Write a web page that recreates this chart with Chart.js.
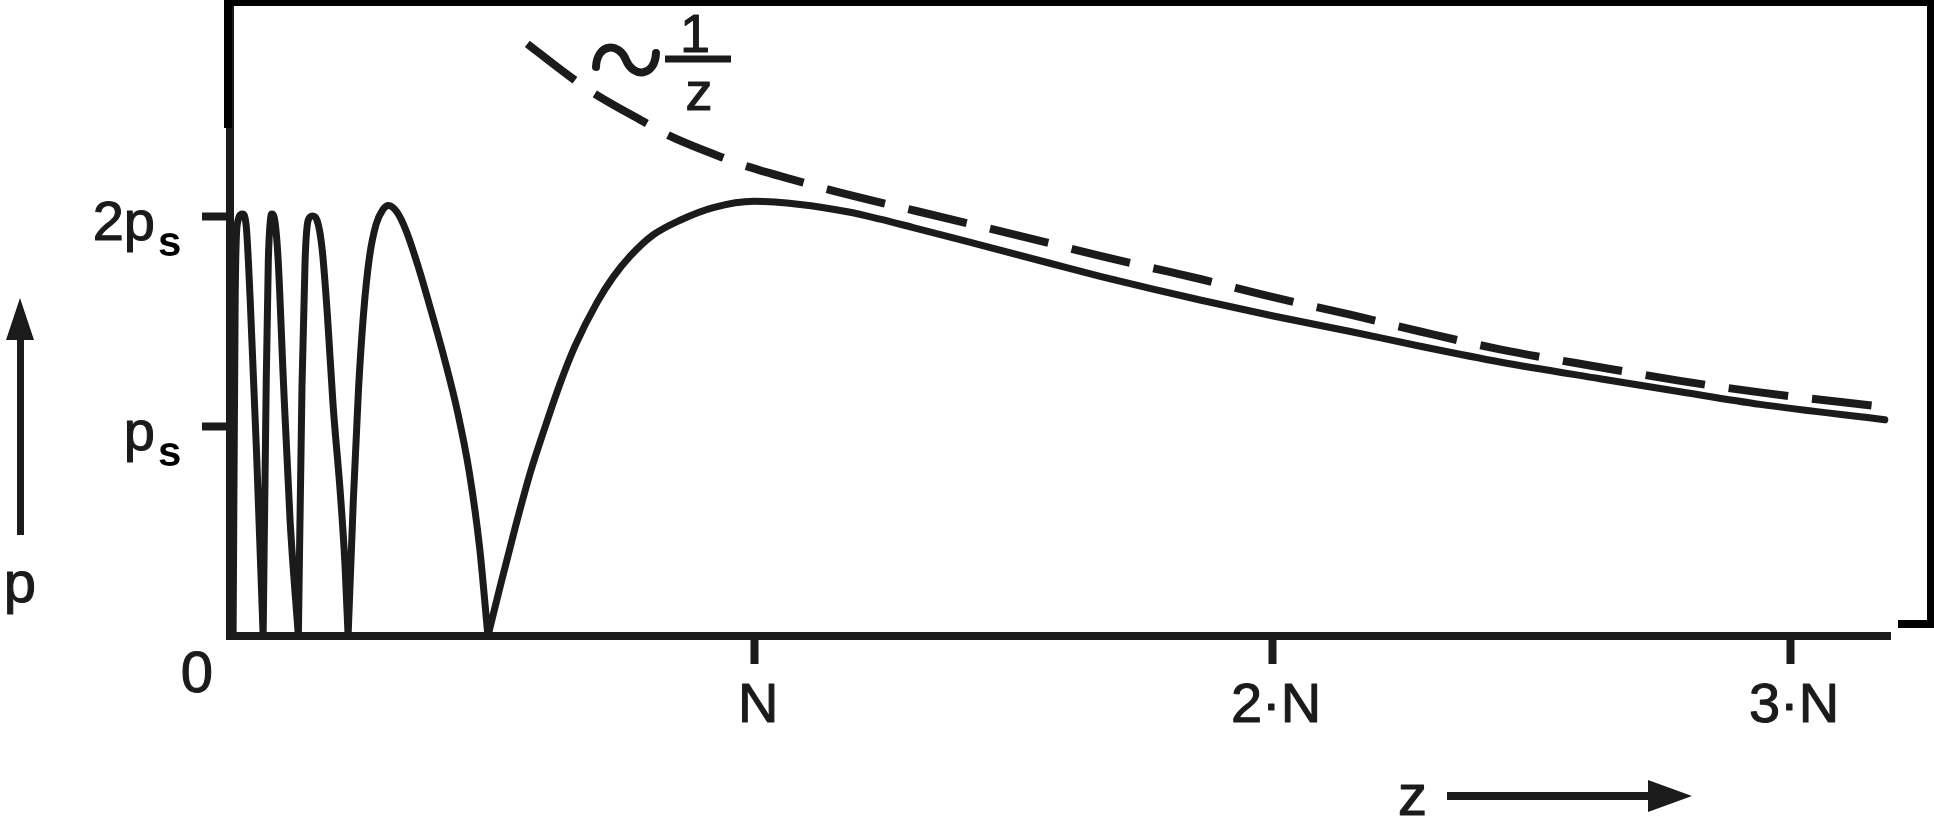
<!DOCTYPE html>
<html>
<head>
<meta charset="utf-8">
<script src="https://cdn.jsdelivr.net/npm/chart.js@4.4.1/dist/chart.umd.min.js"></script>
<style>
  html, body { margin: 0; padding: 0; background: #fff; }
  #wrap { position: relative; width: 1934px; height: 820px; }
  canvas { display: block; }
  .frame { position: absolute; background: #000; }
</style>
</head>
<body>
<div id="wrap">
  <canvas id="myChart" width="1934" height="820"></canvas>
  <div class="frame" style="left:224px;top:0;width:1710px;height:6px"></div>
  <div class="frame" style="left:224px;top:0;width:8px;height:128px"></div>
  <div class="frame" style="left:1927px;top:0;width:7px;height:628px"></div>
  <div class="frame" style="left:1898px;top:620px;width:36px;height:8px"></div>
</div>
<script>
// z in units of N, p in units of p_s
const xTicks = [1, 2, 3];
const xTickLabels = ["N", "2·N", "3·N"];
const yTicks = [1, 2];
const yTickLabels = ["p", "2p"];   // each one gets a subscript "s"

// near field lobes
const lobe1 = [[-0.006, 0], [-0.002, 1.60], [0.002, 1.96], [0.012, 2.01], [0.019, 1.96],
               [0.027, 1.60], [0.039, 0.89], [0.052, 0]];
const lobe2 = [[0.052, 0], [0.058, 1.22], [0.062, 1.79], [0.066, 1.98], [0.069, 2.01],
               [0.075, 1.97], [0.081, 1.79], [0.091, 1.22], [0.104, 0.55], [0.120, 0]];
const lobe3 = [[0.120, 0], [0.127, 1.19], [0.133, 1.79], [0.139, 1.98], [0.147, 2.00],
               [0.156, 1.98], [0.166, 1.84], [0.176, 1.53], [0.187, 1.10], [0.201, 0.68],
               [0.210, 0.34], [0.216, 0]];
const lobe4 = [[0.216, 0], [0.226, 0.64], [0.236, 1.17], [0.246, 1.54], [0.257, 1.80],
               [0.270, 1.96], [0.283, 2.03], [0.294, 2.05], [0.310, 2.02], [0.328, 1.93],
               [0.350, 1.77], [0.375, 1.56], [0.402, 1.32], [0.428, 1.06], [0.450, 0.78],
               [0.470, 0.42], [0.486, 0]];
// last maximum and far field
const farLobe = [[0.486, 0], [0.510, 0.24], [0.539, 0.52], [0.568, 0.78], [0.597, 1.00],
                 [0.625, 1.20], [0.654, 1.38], [0.697, 1.59], [0.728, 1.71], [0.761, 1.81],
                 [0.805, 1.91], [0.857, 1.98], [0.921, 2.04], [1.000, 2.07], [1.089, 2.055],
                 [1.180, 2.02], [1.243, 1.985], [1.307, 1.945], [1.373, 1.903], [1.436, 1.862],
                 [1.571, 1.775], [1.668, 1.713], [1.764, 1.655], [1.861, 1.60], [2.000, 1.525],
                 [2.151, 1.45], [2.286, 1.38], [2.440, 1.305], [2.633, 1.225], [2.788, 1.163],
                 [2.942, 1.103], [3.183, 1.03]];
// dashed ~1/z envelope
const envelope = [[0.562, 2.82], [0.641, 2.67], [0.687, 2.59], [0.786, 2.45], [0.838, 2.38],
                  [0.948, 2.27], [0.988, 2.235], [1.108, 2.15], [1.153, 2.12], [1.268, 2.05],
                  [1.311, 2.025], [1.421, 1.96], [1.571, 1.87], [1.668, 1.81], [1.764, 1.755],
                  [1.861, 1.70], [2.000, 1.615], [2.151, 1.53], [2.286, 1.45], [2.440, 1.365],
                  [2.633, 1.28], [2.788, 1.215], [2.942, 1.16], [3.183, 1.09]];

const ink = "#1b1b1b";
const font = '"Liberation Sans", Arial, sans-serif';

// lobes joined with a gap point so every zero stays a sharp V
function joinLobes(lobes) {
    const out = [];
    lobes.forEach((lobe, i) => {
        if (i > 0) out.push({x: lobe[0][0], y: null});
        lobe.forEach(p => out.push({x: p[0], y: p[1]}));
    });
    return out;
}

// scanned print looks a little heavier than the plain font
function inkText(ctx, text, x, y) {
    ctx.fillText(text, x, y);
    ctx.strokeText(text, x, y);
}

const labelPlugin = {
    id: "figureLabels",
    afterDraw(chart) {
        const {ctx} = chart;
        const xs = chart.scales.x, ys = chart.scales.y;
        ctx.save();
        ctx.fillStyle = ink;
        ctx.strokeStyle = ink;
        ctx.lineWidth = 1.1;
        ctx.lineJoin = "round";

        // x tick labels
        ctx.font = "56px " + font;
        ctx.textAlign = "center";
        ctx.textBaseline = "alphabetic";
        xTicks.forEach((v, i) => {
            inkText(ctx, xTickLabels[i], xs.getPixelForValue(v) + 4, 722);
        });
        ctx.font = "58px " + font;
        inkText(ctx, "0", 197, 692);

        // y tick labels with subscript s
        yTicks.forEach((v, i) => {
            const py = ys.getPixelForValue(v);
            ctx.font = "56px " + font;
            ctx.textAlign = "right";
            inkText(ctx, yTickLabels[i], 155, py + 24);
            ctx.font = "bold 42px " + font;
            ctx.textAlign = "left";
            ctx.fillStyle = "#000";
            ctx.fillText("s", 158, py + 40);
            ctx.fillStyle = ink;
        });

        // axis names with arrows
        ctx.font = "58px " + font;
        ctx.textAlign = "center";
        inkText(ctx, "p", 20, 602);
        ctx.fillRect(17, 334, 7, 201);
        ctx.beginPath();
        ctx.moveTo(20, 298); ctx.lineTo(34, 340); ctx.lineTo(6, 340);
        ctx.closePath(); ctx.fill();

        ctx.textAlign = "left";
        inkText(ctx, "z", 1398, 815);
        ctx.fillRect(1447, 792, 205, 8);
        ctx.beginPath();
        ctx.moveTo(1692, 796); ctx.lineTo(1648, 780); ctx.lineTo(1648, 812);
        ctx.closePath(); ctx.fill();

        // ~ 1/z annotation
        ctx.lineWidth = 8;
        ctx.lineCap = "round";
        ctx.beginPath();
        ctx.moveTo(596, 67);
        ctx.bezierCurveTo(597, 43, 619, 42, 626, 60);
        ctx.bezierCurveTo(633, 78, 655, 77, 656, 53);
        ctx.stroke();
        ctx.lineCap = "butt";
        ctx.lineWidth = 7;
        ctx.beginPath();
        ctx.moveTo(665, 59); ctx.lineTo(731, 59);
        ctx.stroke();
        ctx.lineWidth = 1.1;
        ctx.font = "54px " + font;
        ctx.textAlign = "center";
        inkText(ctx, "1", 695, 52);
        inkText(ctx, "z", 699, 110);
        ctx.restore();
    }
};

const axisStyle = {
    border: {display: true, width: 8, color: ink},
    grid: {display: true, drawOnChartArea: false, drawTicks: true,
           tickLength: 28, tickWidth: 8, tickColor: ink},
    ticks: {display: false}
};

const chart = new Chart(document.getElementById("myChart"), {
    type: "line",
    data: {
        datasets: [
            {
                label: "p",
                data: joinLobes([lobe1, lobe2, lobe3, lobe4, farLobe]),
                borderColor: ink,
                borderWidth: 7,
                cubicInterpolationMode: "monotone",
                borderCapStyle: "round",
                borderJoinStyle: "round",
                pointRadius: 0,
                fill: false
            },
            {
                label: "~1/z",
                data: envelope.map(p => ({x: p[0], y: p[1]})),
                borderColor: ink,
                borderWidth: 8,
                borderDash: [60, 24],
                cubicInterpolationMode: "monotone",
                pointRadius: 0,
                fill: false
            }
        ]
    },
    options: {
        responsive: false,
        animation: false,
        layout: {padding: {top: 6, right: 44, left: 0, bottom: 0}},
        plugins: {legend: {display: false}, tooltip: {enabled: false}},
        scales: {
            x: Object.assign({
                type: "linear", min: -0.012, max: 3.193,
                afterBuildTicks: ax => { ax.ticks = xTicks.map(v => ({value: v})); },
                afterFit: ax => { ax.height = 184; }
            }, axisStyle),
            y: Object.assign({
                type: "linear", min: 0, max: 3.0,
                afterBuildTicks: ax => { ax.ticks = yTicks.map(v => ({value: v})); },
                afterFit: ax => { ax.width = 230; }
            }, axisStyle)
        }
    },
    plugins: [labelPlugin]
});
</script>
</body>
</html>
